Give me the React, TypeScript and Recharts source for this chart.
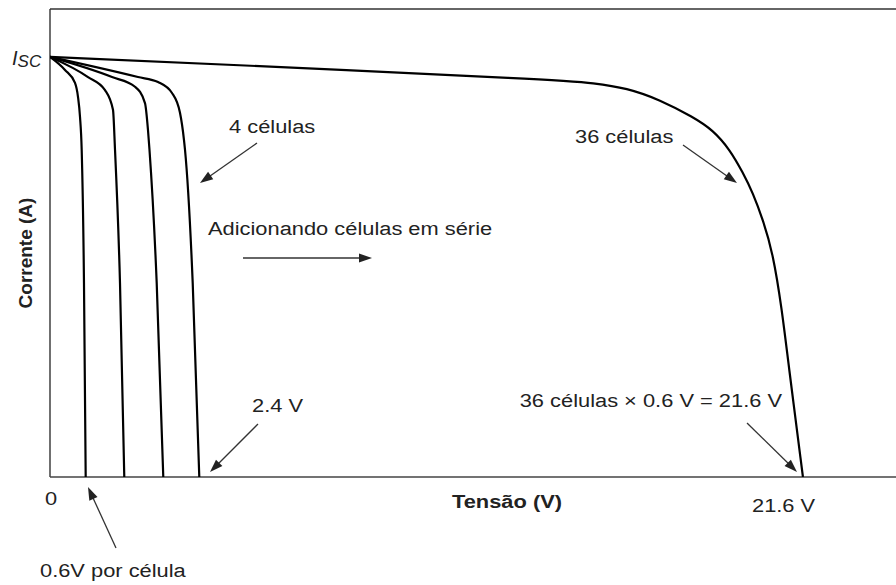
import React from "react";
import { LineChart, Line, XAxis, YAxis, ReferenceLine, Customized } from "recharts";

// Voltage (V) / current (fraction of Isc)
const cell1V = [0, 0.43, 0.717, 0.803, 0.861, 0.909, 0.975, 1.024];
const cell1I = [1.0, 0.969, 0.938, 0.905, 0.857, 0.779, 0.462, 0];

const cell2V = [0, 1.09, 1.578, 1.807, 1.865, 2.008, 2.131];
const cell2I = [1.0, 0.952, 0.921, 0.874, 0.779, 0.462, 0];

const cell3V = [0, 1.779, 2.438, 2.725, 2.811, 2.854, 3.061, 3.25];
const cell3I = [1.0, 0.952, 0.929, 0.89, 0.826, 0.779, 0.462, 0];

const cell4V = [0, 2.524, 3.098, 3.5, 3.729, 3.844, 3.873, 4.094, 4.283];
const cell4I = [1.0, 0.952, 0.94, 0.914, 0.867, 0.802, 0.779, 0.462, 0];

const cell36V = [0, 4.733, 14.63, 15.577, 16.552, 17.499, 18.445, 19.019, 19.507, 19.88, 20.166, 20.453, 20.74, 20.998, 21.17, 21.6];
const cell36I = [1.0, 0.983, 0.945, 0.938, 0.926, 0.898, 0.857, 0.826, 0.779, 0.724, 0.676, 0.612, 0.533, 0.398, 0.279, 0];

const xDomain = [0, 24.27];
const yDomain = [0, 1.114];

const toSeries = (v: number[], i: number[]) => v.map((x, k) => ({ v: x, i: i[k] }));
const curves = [
  { data: toSeries(cell1V, cell1I), type: "monotone" },
  { data: toSeries(cell2V, cell2I), type: "monotone" },
  { data: toSeries(cell3V, cell3I), type: "monotone" },
  { data: toSeries(cell4V, cell4I), type: "monotone" },
  { data: toSeries(cell36V, cell36I), type: "basis" },
];

const FONT = "'Liberation Sans', Arial, sans-serif";
const TXT = "#222";

function T({ x, y, children, bold, anchor, size = 19 }: any) {
  return (
    <text
      transform={`translate(${x},${y}) scale(1.15,1)`}
      fontFamily={FONT}
      fontSize={size}
      fontWeight={bold ? "bold" : "normal"}
      fill={TXT}
      textAnchor={anchor || "start"}
    >
      {children}
    </text>
  );
}

function Arrow({ x1, y1, x2, y2 }: any) {
  const dx = x2 - x1;
  const dy = y2 - y1;
  const len = Math.sqrt(dx * dx + dy * dy);
  const ux = dx / len;
  const uy = dy / len;
  const hl = 13;
  const hw = 4.5;
  const bx = x2 - ux * hl;
  const by = y2 - uy * hl;
  const p1 = `${x2},${y2}`;
  const p2 = `${bx - uy * hw},${by + ux * hw}`;
  const p3 = `${bx + uy * hw},${by - ux * hw}`;
  return (
    <g>
      <line x1={x1} y1={y1} x2={bx + ux * 2} y2={by + uy * 2} stroke="#333" strokeWidth={1.3} />
      <polygon points={`${p1} ${p2} ${p3}`} fill="#222" />
    </g>
  );
}

function Annotations() {
  return (
    <g>
      <text x={12} y={65} fontFamily={FONT} fill={TXT} fontStyle="italic">
        <tspan fontSize={20}>I</tspan>
        <tspan fontSize={17} dy={2}>SC</tspan>
      </text>
      <text
        transform="translate(32,253) rotate(-90)"
        fontFamily={FONT}
        fontSize={19}
        fontWeight="bold"
        fill={TXT}
        textAnchor="middle"
      >
        Corrente (A)
      </text>
      <T x={45} y={505}>0</T>
      <T x={452} y={508} bold>Tensão (V)</T>
      <T x={752} y={512}>21.6 V</T>
      <T x={229} y={133}>4 células</T>
      <T x={575} y={143}>36 células</T>
      <T x={208} y={235}>Adicionando células em série</T>
      <T x={252} y={412}>2.4 V</T>
      <T x={782} y={407} anchor="end">36 células × 0.6 V = 21.6 V</T>
      <T x={40} y={577}>0.6V por célula</T>
      <Arrow x1={257} y1={143} x2={200} y2={183} />
      <Arrow x1={683} y1={145} x2={737} y2={183} />
      <Arrow x1={243} y1={258} x2={372} y2={258} />
      <Arrow x1={258} y1={424} x2={210} y2={472} />
      <Arrow x1={747} y1={423} x2={797} y2={472} />
      <Arrow x1={116} y1={548} x2={88} y2={487} />
    </g>
  );
}

export default function App() {
  return (
    <div style={{ position: "absolute", left: 0, top: 0, width: 896, height: 585, background: "#fff" }}>
      <LineChart width={896} height={585} margin={{ top: 9, left: 50, right: 0, bottom: 108 }}>
        <XAxis dataKey="v" type="number" domain={xDomain} hide allowDataOverflow />
        <YAxis dataKey="i" type="number" domain={yDomain} hide allowDataOverflow />
        <ReferenceLine x={0} stroke="#333" strokeWidth={1.4} />
        <ReferenceLine y={0} stroke="#444" strokeWidth={1.6} />
        <ReferenceLine y={yDomain[1]} stroke="#333" strokeWidth={1.4} />
        {curves.map((c, k) => (
          <Line
            key={k}
            data={c.data}
            dataKey="i"
            type={c.type as any}
            stroke="#000"
            strokeWidth={2.2}
            dot={false}
            activeDot={false}
            isAnimationActive={false}
          />
        ))}
        <Customized component={<Annotations />} />
      </LineChart>
    </div>
  );
}
